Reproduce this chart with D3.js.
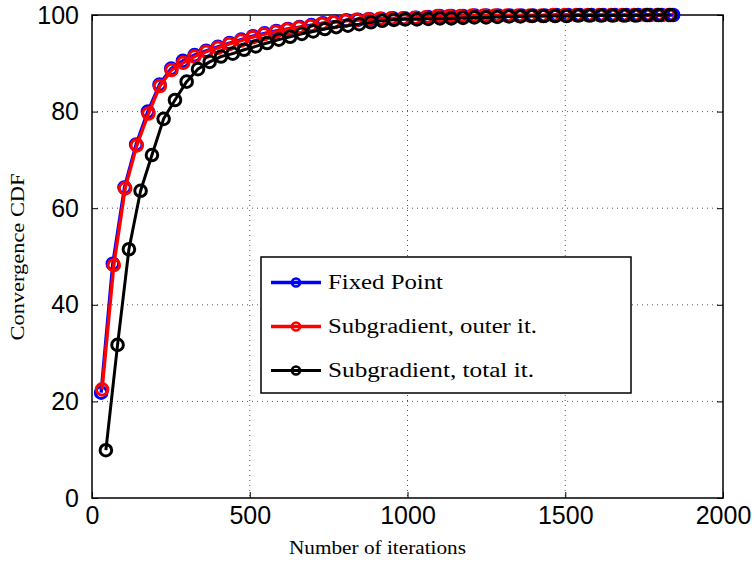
<!DOCTYPE html>
<html>
<head>
<meta charset="utf-8">
<script src="https://cdn.jsdelivr.net/npm/d3@7"></script>
<style>
  html, body { margin: 0; padding: 0; background: #fff; }
  svg { display: block; }
</style>
</head>
<body>
<svg id="chart" width="755" height="563"></svg>
<script>
// Iteration counts (x) and convergence CDF in percent (y) for each method
const xFixed = [29, 66, 103, 140, 177, 214, 251, 288, 325, 362, 399, 436, 473, 510, 547, 584, 621, 658, 695, 732,
  769, 806, 843, 880, 917, 954, 991, 1028, 1065, 1102, 1139, 1176, 1213, 1250, 1287, 1324, 1361, 1398, 1435, 1472,
  1509, 1546, 1583, 1620, 1657, 1694, 1731, 1768, 1805, 1842];
const yFixed = [21.8, 48.5, 64.3, 73.2, 80.0, 85.6, 88.9, 90.5, 91.7, 92.6, 93.4, 94.2, 94.9, 95.6, 96.2, 96.7, 97.1, 97.5, 97.9, 98.3,
  98.6, 98.9, 99.0, 99.1, 99.2, 99.3, 99.3, 99.4, 99.6, 99.8, 99.8, 99.8, 99.9, 99.9, 99.9, 99.9, 99.9, 99.9, 99.9, 100,
  100, 100, 100, 100, 100, 100, 100, 100, 100, 100];

const xOuter = [32, 69, 105, 142, 179, 215, 252, 289, 325, 362, 399, 435, 472, 509, 545, 582, 618, 655, 692, 728,
  765, 802, 838, 875, 912, 948, 985, 1022, 1058, 1095, 1132, 1168, 1205, 1242, 1278, 1315, 1351, 1388, 1425, 1461,
  1498, 1535, 1571, 1608, 1645, 1681, 1718, 1755, 1791, 1828];
const yOuter = [22.5, 48.2, 64.1, 73.0, 79.6, 85.3, 88.6, 90.1, 91.4, 92.4, 93.2, 94.0, 94.7, 95.4, 96.0, 96.5, 97.0, 97.4, 97.7, 98.2,
  98.5, 98.8, 99.0, 99.1, 99.2, 99.3, 99.3, 99.4, 99.5, 99.8, 99.8, 99.8, 99.9, 99.9, 99.9, 99.9, 99.9, 99.9, 99.9, 100,
  100, 100, 100, 100, 100, 100, 100, 100, 100, 100];

const xTotal = [44, 81, 117, 154, 190, 227, 263, 300, 336, 373, 409, 446, 482, 519, 555, 592, 628, 665, 701, 738,
  774, 811, 847, 884, 920, 957, 993, 1030, 1066, 1103, 1139, 1176, 1212, 1249, 1285, 1322, 1358, 1395, 1431, 1468,
  1504, 1541, 1577, 1614, 1650, 1687, 1723, 1760, 1796, 1833];
const yTotal = [9.9, 31.7, 51.5, 63.6, 71.0, 78.5, 82.4, 86.2, 88.8, 90.3, 91.4, 92.0, 92.8, 93.5, 94.2, 94.9, 95.5, 96.1, 96.6, 97.1,
  97.5, 97.8, 98.1, 98.5, 98.8, 99.0, 99.1, 99.1, 99.2, 99.3, 99.3, 99.4, 99.5, 99.5, 99.6, 99.7, 99.7, 99.8, 99.8, 99.8,
  99.8, 99.9, 99.9, 99.9, 99.9, 99.9, 99.9, 100, 100, 100];

const seriesNames = ["Fixed Point", "Subgradient, outer it.", "Subgradient, total it."];
const seriesColors = ["#0000ff", "#ff0000", "#000000"];

const xTicks = [0, 500, 1000, 1500, 2000];
const yTicks = [0, 20, 40, 60, 80, 100];

const xLabel = "Number of iterations";
const yLabel = "Convergence CDF";

// Layout
const svg = d3.select("#chart");
const plot = { left: 92, right: 723, top: 15, bottom: 498 };

const x = d3.scaleLinear().domain([0, 2000]).range([plot.left, plot.right]);
const y = d3.scaleLinear().domain([0, 100]).range([plot.bottom, plot.top]);

const series = [
  { name: seriesNames[0], color: seriesColors[0], xs: xFixed, ys: yFixed, width: 3.4 },
  { name: seriesNames[1], color: seriesColors[1], xs: xOuter, ys: yOuter, width: 3.4 },
  { name: seriesNames[2], color: seriesColors[2], xs: xTotal, ys: yTotal, width: 3 }
];

// Dotted grid
const grid = svg.append("g").attr("stroke", "#555").attr("stroke-width", 1)
  .attr("stroke-dasharray", "1,4");
grid.selectAll("line.gx").data(xTicks.slice(1, -1)).join("line")
  .attr("x1", d => x(d)).attr("x2", d => x(d))
  .attr("y1", plot.top).attr("y2", plot.bottom);
grid.selectAll("line.gy").data(yTicks.slice(1, -1)).join("line")
  .attr("x1", plot.left).attr("x2", plot.right)
  .attr("y1", d => y(d)).attr("y2", d => y(d));

// Axes with inward ticks on all four sides
const tickFont = "'Liberation Sans', Arial, sans-serif";
const axBottom = svg.append("g").attr("transform", `translate(0,${plot.bottom})`)
  .call(d3.axisBottom(x).tickValues(xTicks).tickSizeInner(-6).tickSizeOuter(0).tickPadding(12).tickFormat(d3.format("d")));
const axLeft = svg.append("g").attr("transform", `translate(${plot.left},0)`)
  .call(d3.axisLeft(y).tickValues(yTicks).tickSizeInner(-6).tickSizeOuter(0).tickPadding(13).tickFormat(d3.format("d")));
const axTop = svg.append("g").attr("transform", `translate(0,${plot.top})`)
  .call(d3.axisTop(x).tickValues(xTicks).tickSizeInner(-6).tickSizeOuter(0).tickFormat(""));
const axRight = svg.append("g").attr("transform", `translate(${plot.right},0)`)
  .call(d3.axisRight(y).tickValues(yTicks).tickSizeInner(-6).tickSizeOuter(0).tickFormat(""));

[axBottom, axLeft, axTop, axRight].forEach(a => {
  a.select(".domain").remove();
  a.selectAll(".tick line").attr("stroke", "#000").attr("stroke-width", 1);
  a.selectAll("text").attr("font-family", tickFont).attr("font-size", 25).attr("fill", "#000");
});
axBottom.selectAll("text").attr("dy", "0.71em").attr("y", 8);

// Frame
svg.append("rect")
  .attr("x", plot.left).attr("y", plot.top)
  .attr("width", plot.right - plot.left).attr("height", plot.bottom - plot.top)
  .attr("fill", "none").attr("stroke", "#000").attr("stroke-width", 1.5);

// Series lines and circle markers
const line = d3.line().x(d => x(d[0])).y(d => y(d[1]));
series.forEach(s => {
  const pts = s.xs.map((v, i) => [v, s.ys[i]]);
  const g = svg.append("g");
  g.append("path").datum(pts).attr("d", line)
    .attr("fill", "none").attr("stroke", s.color).attr("stroke-width", s.width)
    .attr("stroke-linejoin", "round");
  g.selectAll("circle").data(pts).join("circle")
    .attr("cx", d => x(d[0])).attr("cy", d => y(d[1])).attr("r", 5.8)
    .attr("fill", "none").attr("stroke", s.color).attr("stroke-width", 3);
});

// Axis titles
const serif = "'Liberation Serif', 'Times New Roman', serif";
svg.append("text")
  .attr("x", (plot.left + plot.right) / 2 - 30).attr("y", 554)
  .attr("text-anchor", "middle").attr("font-family", serif).attr("font-size", 18)
  .attr("textLength", 177).attr("lengthAdjust", "spacingAndGlyphs")
  .text(xLabel);
svg.append("text")
  .attr("transform", "translate(24,257) rotate(-90)")
  .attr("text-anchor", "middle").attr("font-family", serif).attr("font-size", 18)
  .attr("textLength", 167).attr("lengthAdjust", "spacingAndGlyphs")
  .text(yLabel);

// Legend
const legend = { x: 261, y: 257, w: 370, h: 136 };
svg.append("rect")
  .attr("x", legend.x).attr("y", legend.y).attr("width", legend.w).attr("height", legend.h)
  .attr("fill", "#fff").attr("stroke", "#000").attr("stroke-width", 1.5);
const legendRows = [282.5, 326.5, 370.5];
const legendWidths = [115, 209, 206];
series.forEach((s, i) => {
  const ly = legendRows[i];
  svg.append("line").attr("x1", 271).attr("x2", 321).attr("y1", ly).attr("y2", ly)
    .attr("stroke", s.color).attr("stroke-width", s.width);
  svg.append("circle").attr("cx", 296).attr("cy", ly).attr("r", 4)
    .attr("fill", "none").attr("stroke", s.color).attr("stroke-width", 2.6);
  svg.append("text").attr("x", 328).attr("y", ly + 6.5)
    .attr("font-family", serif).attr("font-size", 20).attr("fill", "#000")
    .attr("textLength", legendWidths[i]).attr("lengthAdjust", "spacingAndGlyphs")
    .text(s.name);
});
</script>
</body>
</html>
